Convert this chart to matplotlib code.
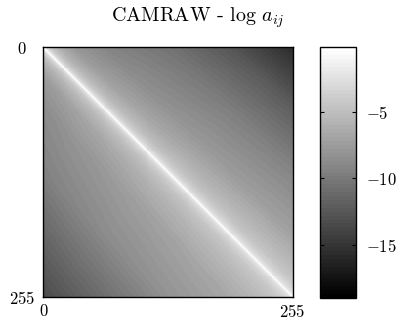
import numpy as np
import matplotlib
matplotlib.use('Agg')
import matplotlib.pyplot as plt

plt.rcParams['font.family'] = 'serif'
plt.rcParams['font.serif'] = ['cmr10']
plt.rcParams['mathtext.fontset'] = 'cm'
plt.rcParams['axes.formatter.use_mathtext'] = True

# profile of log a_ij across the diagonal (offset d = j - i), read at the middle
prof_d = [-255, -192, -128, -64, -32, -16, -8, -4, -2, -1, 0, 1, 2, 4, 8, 16, 32, 64, 128, 192, 255]
prof_v = [-13.3, -11.0, -8.6, -7.2, -5.9, -4.8, -3.7, -2.7, -1.8, -1.1, -0.3,
          -1.1, -1.8, -2.7, -3.7, -4.9, -6.1, -7.7, -9.6, -12.2, -15.6]
# shift along the diagonal (position m = (i+j)/2)
pos_m = [0, 64, 128, 192, 255]
pos_shift = [-2.0, -0.8, 0.0, 0.5, 0.8]
# how much of the shift applies at a given distance from the diagonal
wt_d = [0, 8, 32, 255]
wt_v = [0.0, 0.5, 1.0, 1.0]

n = 256
idx = np.arange(n)
I, J = np.meshgrid(idx, idx, indexing='ij')
D = J - I
M = (I + J) / 2.0
A = np.interp(D, prof_d, prof_v) + np.interp(M, pos_m, pos_shift) * np.interp(np.abs(D), wt_d, wt_v)

fig = plt.figure(figsize=(3.96, 3.2), dpi=100)
ax = fig.add_axes([43/396, 23/320, 250/396, 250/320])
cax = fig.add_axes([320/396, 22/320, 36/396, 251/320])

im = ax.imshow(A, cmap=plt.get_cmap('gray', 64), vmin=-19, vmax=-0.1,
               interpolation='nearest', aspect='auto')
ax.set_xticks([0, 255])
ax.set_xticklabels(['$0$', '$255$'])
ax.set_yticks([0, 255])
ax.set_yticklabels(['$0$', '$255$'], ha='center')
ax.tick_params(length=0, labelsize=12)
ax.tick_params(axis='x', pad=4)
ax.tick_params(axis='y', pad=15)
for s in ax.spines.values():
    s.set_linewidth(1.0)
fig.text(0.5, 1 - 18/320, r'CAMRAW - $\log\, a_{ij}$', fontsize=14.5, ha='center', va='center')

cb = fig.colorbar(im, cax=cax)
cb.set_ticks([-5, -10, -15])
cb.set_ticklabels(['$-5$', '$-10$', '$-15$'])
cax.tick_params(direction='in', length=3, width=0.8, left=True, right=True, labelsize=12, pad=7)
cb.outline.set_linewidth(1.0)

fig.savefig('out.png', dpi=100)
